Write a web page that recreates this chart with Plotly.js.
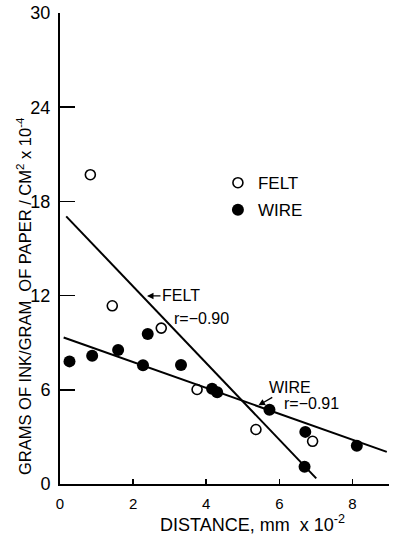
<!DOCTYPE html>
<html>
<head>
<meta charset="utf-8">
<script src="https://cdn.plot.ly/plotly-3.0.1.min.js"></script>
<style>html,body{margin:0;padding:0;background:#fff;}#chart{width:393px;height:539px;}</style>
</head>
<body>
<div id="chart"></div>
<script>
// Felt (open circles)
var feltX = [0.83, 1.43, 2.77, 3.75, 5.36, 6.91];
var feltY = [19.7, 11.35, 9.93, 6.02, 3.47, 2.72];
// Wire (filled circles)
var wireX = [0.26, 0.88, 1.59, 2.40, 2.27, 3.31, 4.16, 4.30, 5.73, 6.71, 6.69, 8.12];
var wireY = [7.81, 8.17, 8.54, 9.55, 7.56, 7.58, 6.06, 5.85, 4.73, 3.32, 1.10, 2.43];
// Fitted regression lines (end points)
var feltLineX = [0.17, 7.01];
var feltLineY = [17.05, 0.36];
var wireLineX = [0.10, 8.94];
var wireLineY = [9.33, 2.05];
// Axis ticks
var xTicks = [0, 2, 4, 6, 8];
var yTicks = [0, 6, 12, 18, 24, 30];
var feltR = "r=\u22120.90";
var wireR = "r=\u22120.91";

var FONT = "Liberation Sans, Arial, sans-serif";

var traces = [
  {x: feltLineX, y: feltLineY, mode: "lines", line: {color: "#000", width: 2}, showlegend: false, hoverinfo: "skip"},
  {x: wireLineX, y: wireLineY, mode: "lines", line: {color: "#000", width: 2}, showlegend: false, hoverinfo: "skip"},
  {x: feltX, y: feltY, mode: "markers", name: "FELT", legendgroup: "a",
   marker: {symbol: "circle-open", size: 10, color: "#000", line: {width: 1.6, color: "#000"}}},
  {x: wireX, y: wireY, mode: "markers", name: "WIRE", legendgroup: "b",
   marker: {symbol: "circle", size: 12, color: "#000"}}
];

var layout = {
  width: 393, height: 539,
  margin: {l: 60, r: 4, t: 13, b: 55},
  paper_bgcolor: "#fff", plot_bgcolor: "#fff",
  font: {family: FONT, color: "#000"},
  showlegend: true,
  legend: {x: 0.48, y: 0.677, xanchor: "left", yanchor: "top", bgcolor: "rgba(0,0,0,0)",
           font: {size: 17, family: FONT, color: "#000"}, tracegroupgap: 2},
  xaxis: {range: [0, 9], showgrid: false, zeroline: false, showline: true, linecolor: "#000", linewidth: 2,
          ticks: "inside", ticklen: 5, tickwidth: 1.5, tickcolor: "#000", tickvals: xTicks,
          ticklabelstandoff: 5, tickfont: {size: 15, family: FONT, color: "#000"}},
  yaxis: {range: [0, 30], showgrid: false, zeroline: false, showline: true, linecolor: "#000", linewidth: 2,
          ticks: "inside", ticklen: 15, tickwidth: 1.5, tickcolor: "#000", tickvals: yTicks,
          ticklabelstandoff: 4, tickfont: {size: 18, family: FONT, color: "#000"}},
  annotations: [
    {xref: "paper", yref: "paper", x: (252 - 60) / 329, y: -(523 - 484) / 471, xanchor: "center", yanchor: "middle",
     text: "DISTANCE, mm  x 10<sup>-2</sup>", showarrow: false, font: {size: 18, family: FONT, color: "#000"}},
    {xref: "paper", yref: "paper", x: (24 - 60) / 329, y: (484 - 296) / 471, xanchor: "center", yanchor: "middle",
     textangle: -90, text: "GRAMS OF INK/GRAM  OF PAPER / CM<sup>2</sup> x 10<sup>-4</sup>", showarrow: false,
     font: {size: 16.5, family: FONT, color: "#000"}},
    {x: 2.38, y: 11.98, text: "FELT", showarrow: true, arrowhead: 2, arrowsize: 1, arrowwidth: 1.3, arrowcolor: "#000",
     ax: 34, ay: 0, font: {size: 16, family: FONT, color: "#000"}},
    {x: 3.87, y: 10.52, text: feltR, showarrow: false, font: {size: 16, family: FONT, color: "#000"}},
    {x: 5.43, y: 5.01, text: "WIRE", showarrow: true, arrowhead: 2, arrowsize: 1, arrowwidth: 1.3, arrowcolor: "#000",
     ax: 31, ay: -18, font: {size: 16, family: FONT, color: "#000"}},
    {x: 6.87, y: 5.13, text: wireR, showarrow: false, font: {size: 16, family: FONT, color: "#000"}}
  ]
};

Plotly.newPlot("chart", traces, layout, {displayModeBar: false, staticPlot: true});
</script>
</body>
</html>
